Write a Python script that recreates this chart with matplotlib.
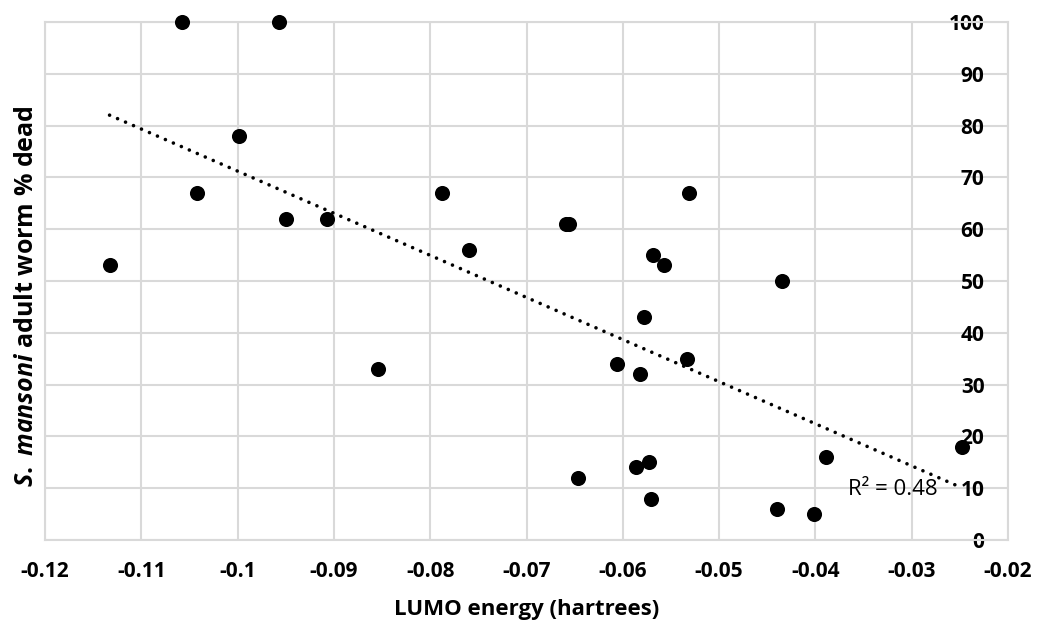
import matplotlib
matplotlib.use('Agg')
import matplotlib.pyplot as plt
import numpy as np

plt.rcParams['font.family'] = ['Open Sans', 'DejaVu Sans']
plt.rcParams['mathtext.fontset'] = 'custom'
plt.rcParams['mathtext.it'] = 'Open Sans:italic:bold'
plt.rcParams['mathtext.rm'] = 'Open Sans:bold'

# LUMO energy (hartrees) vs % dead worms
lumo = [-0.1058, -0.0957, -0.1133, -0.1042, -0.0999, -0.0950, -0.0907,
        -0.0854, -0.0788, -0.0760, -0.0659, -0.0656, -0.0647, -0.0606,
        -0.0569, -0.0557, -0.0531, -0.0435, -0.0578, -0.0582, -0.0533,
        -0.0586, -0.0573, -0.0571, -0.0440, -0.0389, -0.0401, -0.0248]
dead = [100, 100, 53, 67, 78, 62, 62,
        33, 67, 56, 61, 61, 12, 34,
        55, 53, 67, 50, 43, 32, 35,
        14, 15, 8, 6, 16, 5, 18]

xticks = [-0.12, -0.11, -0.1, -0.09, -0.08, -0.07, -0.06, -0.05, -0.04, -0.03, -0.02]
xticklabels = ['-0.12', '-0.11', '-0.1', '-0.09', '-0.08', '-0.07', '-0.06',
               '-0.05', '-0.04', '-0.03', '-0.02']
yticks = list(range(0, 101, 10))
r2_label = 'R\u00b2 = 0.48'

grid_col = '#d9d9d9'

fig = plt.figure(figsize=(10.38, 6.28), dpi=100)
ax = fig.add_axes([0.0434, 0.1401, 0.9277, 0.8249])

# linear trendline (least squares, like Excel)
x = np.array(lumo)
y = np.array(dead)
slope, icpt = np.polyfit(x, y, 1)
xt = np.array([x.min(), x.max()])
ax.plot(xt, slope * xt + icpt, color='black', lw=2.6,
        linestyle=(0, (0.01, 2.4)), dash_capstyle='round', zorder=2)

ax.scatter(lumo, dead, s=118, color='black', zorder=3, linewidths=0,
           clip_on=False)

ax.set_xlim(-0.12, -0.02)
ax.set_ylim(0, 100)
ax.set_xticks(xticks)
ax.set_xticklabels(xticklabels, fontsize=15, fontweight='bold')
ax.set_yticks(yticks)
ax.yaxis.tick_right()
ax.set_yticklabels([str(v) for v in yticks], fontsize=15, fontweight='bold',
                   ha='right')
ax.tick_params(axis='x', length=0, pad=15)
ax.tick_params(axis='y', length=0, pad=-17)

ax.grid(True, color=grid_col, lw=1.5)
ax.set_axisbelow(True)
for sp in ax.spines.values():
    sp.set_color(grid_col)
    sp.set_linewidth(1.5)

ax.text(-0.0366, 9.7, r2_label, fontsize=16, ha='left', va='center', zorder=4)

ax.set_xlabel('LUMO energy (hartrees)', fontsize=16, fontweight='bold', labelpad=12)
ax.yaxis.set_label_position('left')
ax.set_ylabel(r'$\mathit{S.}$ $\mathit{mansoni}$ adult worm % dead', fontsize=18,
              fontweight='bold')
ax.yaxis.set_label_coords(-0.006, 0.47)

fig.savefig('out.png', dpi=100)
